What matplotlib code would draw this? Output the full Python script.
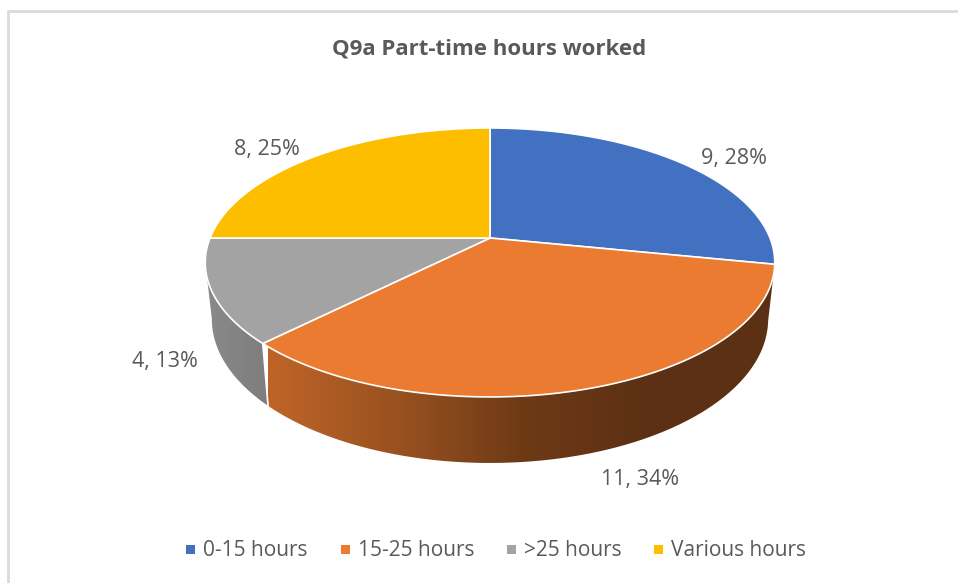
"""
Q9a part-time hours pie, drawn as a tilted 3D disc.
output: out.png
"""
import numpy as np
import matplotlib.pyplot as plt
from matplotlib.patches import Polygon, Rectangle
from matplotlib.colors import LinearSegmentedColormap

categories = ["0-15 hours", "15-25 hours", ">25 hours", "Various hours"]
counts = [9, 11, 4, 8]
colors = ["#4271C1", "#EB7B30", "#A3A3A3", "#FDBE00"]
title = "Q9a Part-time hours worked"

W, H = 958, 583
GREY = "#595959"
TILT = 0.182
plt.rcParams["font.family"] = ["Open Sans", "DejaVu Sans"]


def project(x, y, rx=280, cy=238, ry=86.7):
    # unit circle -> pixels, with a bit of perspective (front is bigger)
    d = 1 + TILT * y
    return 490 + rx * x / d, (cy - ry * y) / d


def project_bottom(x, y):
    return project(x, y, rx=273.5, cy=293, ry=85.7)


def arc(a0, a1, n=120):
    # angles are clockwise from 12 o'clock
    t = np.radians(np.linspace(a0, a1, n))
    return np.sin(t), np.cos(t)


def wall(ax, a0, a1, cmap, lo, hi):
    # side wall between two angles, filled with a horizontal gradient
    x, y = arc(a0, a1)
    tx, ty = project(x, y)
    bx, by = project_bottom(x, y)
    poly = Polygon(np.r_[np.c_[tx, ty], np.c_[bx, by][::-1]], closed=True,
                   fc="none", ec="none")
    ax.add_patch(poly)
    grad = np.linspace(0, 1, 256).reshape(1, -1)
    im = ax.imshow(grad, cmap=cmap, extent=(lo, hi, H, 0), aspect="auto", zorder=1,
                   interpolation="bilinear")
    im.set_clip_path(poly)


fig = plt.figure(figsize=(W / 100, H / 100), dpi=100)
ax = fig.add_axes([0, 0, 1, 1])
ax.set_xlim(0, W)
ax.set_ylim(H, 0)
ax.axis("off")

# chart frame, cropped on the right and at the bottom
ax.plot([8.5, 8.5, W], [H, 10.5, 10.5], color="#DADADA", lw=2, solid_joinstyle="miter", zorder=0)

edges = np.cumsum([0] + counts) / sum(counts) * 360
# the outline of the disc turns at this angle on the left
left_turn = 360 - np.degrees(np.arccos(-TILT))

# only the orange and grey slices face the viewer
orange_cm = LinearSegmentedColormap.from_list(
    "o", ["#BF6428", "#9A5220", "#6E3A16", "#5C3014", "#5C3014"])
grey_cm = LinearSegmentedColormap.from_list("g", ["#8A8A8A", "#7E7E7E"])
wall(ax, edges[1], edges[2], orange_cm, 268, 775)
wall(ax, edges[2], left_turn, grey_cm, 205, 268)

# divider between the two walls
sx, sy = np.sin(np.radians(edges[2])), np.cos(np.radians(edges[2]))
tx, ty = project(sx, sy)
bx, by = project_bottom(sx, sy)
ax.plot([tx, bx], [ty, by], color="white", lw=1.2, zorder=2)

# top faces
for i, c in enumerate(colors):
    x, y = arc(edges[i], edges[i + 1])
    px, py = project(x, y)
    cx, cy = project(0.0, 0.0)
    ax.add_patch(Polygon(np.r_[[[cx, cy]], np.c_[px, py]], closed=True, fc=c,
                         ec="white", lw=1.2, joinstyle="round", zorder=3))

# data labels
label_pos = [(734, 158.5), (640, 480), (165, 362), (267, 149)]
for n, pos in zip(counts, label_pos):
    pct = int(n / sum(counts) * 100 + 0.5)  # 12.5 goes up to 13, as in excel
    ax.text(pos[0], pos[1], f"{n}, {pct}%", ha="center", va="center",
            fontsize=15.5, color=GREY, zorder=4)

ax.text(489.5, 49, title, ha="center", va="center", fontsize=16, fontweight="bold",
        color=GREY)

# legend
marker_x = [191, 346, 512, 659]
for name, c, mx in zip(categories, colors, marker_x):
    ax.add_patch(Rectangle((mx - 4.5, 545), 9, 9, fc=c, ec="none"))
    ax.text(mx + 12.5, 551, name, ha="left", va="center", fontsize=15, color=GREY)

fig.savefig("out.png", dpi=100)
